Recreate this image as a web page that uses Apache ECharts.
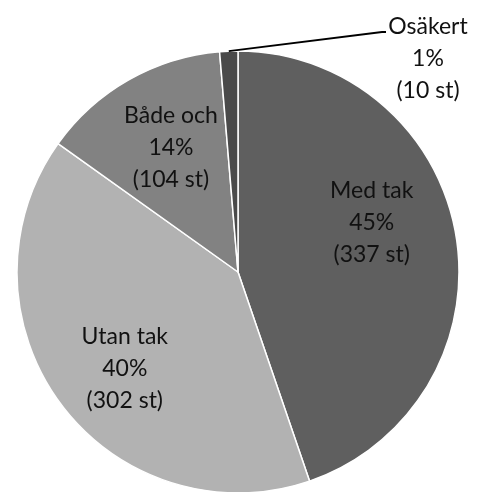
<!DOCTYPE html>
<html>
<head>
<meta charset="utf-8">
<script src="https://cdn.jsdelivr.net/npm/echarts@6/dist/echarts.min.js"></script>
<style>
  html, body { margin: 0; padding: 0; background: #fff; }
  #chart { width: 482px; height: 492px; }
</style>
</head>
<body>
<div id="chart"></div>
<script>
const categories = ['Med tak', 'Utan tak', 'Både och', 'Osäkert']
const counts = [337, 302, 104, 10]
const percents = [45, 40, 14, 1]
const colors = ['#5f5f5f', '#b2b2b2', '#828282', '#4a4a4a']

const cx = 238
const cy = 272
const radius = 221
// etiketten för osäkert ligger utanför, uppe till höger
const outLabel = { x: 428, y: 59 }
// små justeringar av de inre etiketterna
const nudge = [[-8, -26], [2, 11], [4, 0]]

// mittvinkel (medurs från kl 12) för varje sektor
const total = counts.reduce((a, b) => a + b, 0)
const midAngles = []
let acc = 0
counts.forEach(v => {
  midAngles.push(((acc + v / 2) / total) * 2 * Math.PI)
  acc += v
})

const myChart = echarts.init(document.getElementById('chart'))

const a3 = midAngles[3]
const p0 = [cx + radius * Math.sin(a3), cy - radius * Math.cos(a3)]
const p1 = [outLabel.x - 46, outLabel.y - 27]

const option = {
  backgroundColor: '#fff',
  animation: false,
  series: [
    {
      type: 'pie',
      center: [cx, cy],
      radius: radius,
      startAngle: 90,
      clockwise: true,
      itemStyle: { borderColor: '#fff', borderWidth: 1.5 },
      label: {
        show: true,
        position: 'inside',
        fontFamily: 'Lato',
        fontSize: 23,
        lineHeight: 32,
        color: '#111',
        formatter: p => `${p.name}\n${percents[p.dataIndex]}%\n(${p.value} st)`
      },
      labelLine: { show: false },
      data: categories.map((name, i) => ({
        name: name,
        value: counts[i],
        itemStyle: { color: colors[i] }
      })),
      labelLayout: function (params) {
        const i = params.dataIndex
        if (i === 3) {
          return { x: outLabel.x, y: outLabel.y, align: 'center', verticalAlign: 'middle' }
        }
        const k = 0.65 * radius
        return {
          x: cx + k * Math.sin(midAngles[i]) + nudge[i][0],
          y: cy - k * Math.cos(midAngles[i]) + nudge[i][1],
          align: 'center',
          verticalAlign: 'middle'
        }
      }
    }
  ],
  // ledarlinje från den lilla sektorn till etiketten
  graphic: [
    {
      type: 'polyline',
      shape: { points: [p0, p1, [p1[0] + 4, p1[1]]] },
      style: { stroke: '#000', lineWidth: 1.8, fill: null },
      z: 10
    }
  ]
}

myChart.setOption(option)
</script>
</body>
</html>
